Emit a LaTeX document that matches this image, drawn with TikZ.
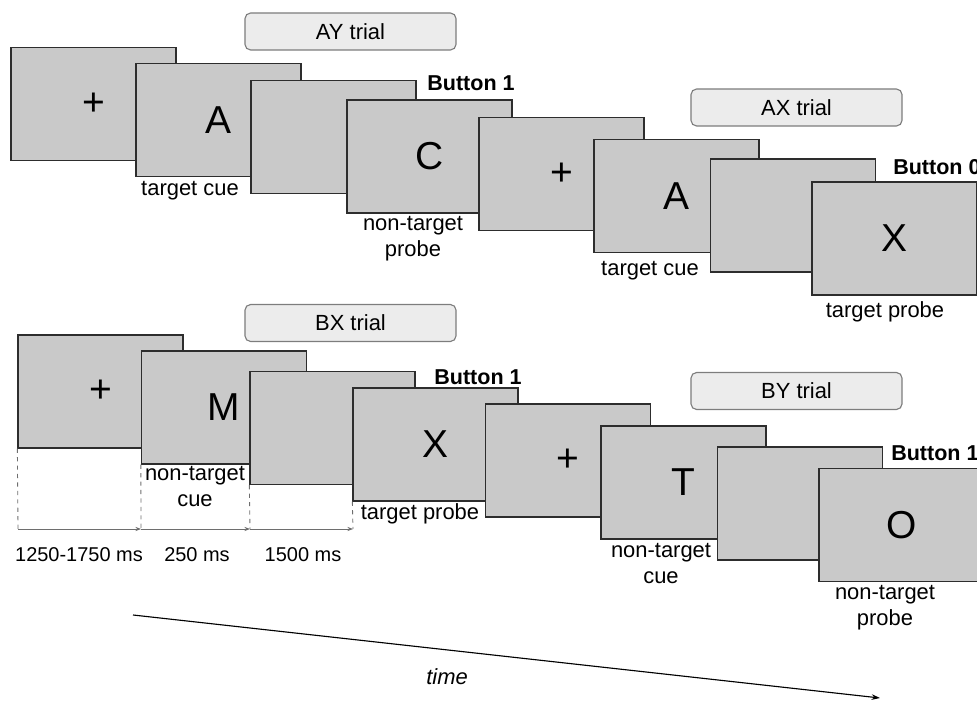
\documentclass[tikz,border=0pt]{standalone}
\usepackage{fontspec}
\setmainfont{Liberation Sans}
\usetikzlibrary{arrows.meta}
\definecolor{screengray}{RGB}{201, 201, 201}
\definecolor{screenline}{RGB}{45, 45, 45}
\definecolor{boxfill}{RGB}{236, 236, 236}
\definecolor{boxline}{RGB}{125, 125, 125}
\definecolor{spangray}{RGB}{110, 110, 110}
\begin{document}
\begin{tikzpicture}[
        x=0.025cm, y=-0.025cm,
        screen/.style={draw=screenline, fill=screengray, line width=0.9pt, minimum width=4.125cm, minimum height=2.825cm, inner sep=0pt, font=\fontsize{27.7}{30}\selectfont},
        trialbox/.style={draw=boxline, fill=boxfill, line width=0.8pt, rounded corners=4pt, minimum width=5.275cm, minimum height=0.925cm, font=\fontsize{15.6}{18.5}\selectfont},
        lbl/.style={align=center, inner sep=0pt, font=\fontsize{15.6}{18.5}\selectfont},
        btn/.style={inner sep=0pt, font=\bfseries\fontsize{15.3}{18}\selectfont},
        dur/.style={inner sep=0pt, font=\fontsize{14.2}{16}\selectfont},
        tick/.style={draw=spangray, dashed, line width=0.6pt},
        span/.style={draw=spangray, line width=0.7pt, -{Stealth[length=4pt, width=3pt]}}
      ]
        \useasboundingbox (0,0) rectangle (977,701);
        \clip (0,0) rectangle (977,701);

        \node[trialbox] (ay) at (350.5,31.5) {AY trial};
        \node[screen] (r1) at (93.5,104) {+};
        \node[screen] (r2) at (218.5,120) {A};
        \node[screen] (r3) at (333.5,137) {};
        \node[screen] (r4) at (429.5,156.5) {C};
        \node[screen] (r5) at (561.5,174) {+};
        \node[screen] (r6) at (676.5,196) {A};
        \node[screen] (r7) at (793,215.5) {};
        \node[screen] (r8) at (894.5,238.5) {X};
        \node[trialbox] (ax) at (796.5,107.5) {AX trial};
        \node[lbl] (r2lbl) at (190,191) {target cue};
        \node[lbl] (r4lbl) at (413,239) {non-target\\probe};
        \node[btn] (r4btn) at (471,83) {Button 1};
        \node[lbl] (r6lbl) at (650,271) {target cue};
        \node[btn, anchor=west] (r8btn) at (893,167) {Button 0};
        \node[lbl] (r8lbl) at (885,312) {target probe};

        \node[trialbox] (bx) at (350.5,323) {BX trial};
        \node[screen] (b1) at (100.5,391.5) {+};
        \node[screen] (b2) at (224,407.5) {M};
        \node[screen] (b3) at (332.5,428) {};
        \node[screen] (b4) at (435.5,444.5) {X};
        \node[screen] (b5) at (568,460.5) {+};
        \node[screen] (b6) at (683.5,482.5) {T};
        \node[screen] (b7) at (800,503.5) {};
        \node[screen] (b8) at (901.5,525) {O};
        \node[trialbox] (by) at (796.5,391) {BY trial};
        \node[lbl] (b2lbl) at (195,487) {non-target\\cue};
        \node[lbl] (b4lbl) at (420,514) {target probe};
        \node[btn] (b4btn) at (478,377) {Button 1};
        \node[lbl] (b6lbl) at (661,564) {non-target\\cue};
        \node[btn, anchor=west] (b8btn) at (891,453) {Button 1};
        \node[lbl] (b8lbl) at (885,608) {non-target\\probe};

        \coordinate (t0) at (18,529);
        \coordinate (t1) at (141,529);
        \coordinate (t2) at (250,529);
        \coordinate (t3) at (353,529);
        \draw[tick] (b1.south west) -- (t0);
        \draw[tick] (b2.south west) -- (t1);
        \draw[tick] (b3.south west) -- (t2);
        \draw[tick] (b4.south west) -- (t3);
        \draw[span] (t0) -- (t1);
        \draw[span] (t1) -- (t2);
        \draw[span] (t2) -- (t3);
        \node[dur] (d0) at (79,555) {1250-1750 ms};
        \node[dur] (d1) at (197,555) {250 ms};
        \node[dur] (d2) at (303,555) {1500 ms};

        \coordinate (tstart) at (133,615);
        \coordinate (tend) at (880,698);
        \draw[line width=0.8pt, -{Stealth[length=6pt, width=4pt]}] (tstart) -- (tend);
        \node[lbl, font=\itshape\fontsize{15.6}{18.5}\selectfont] (time) at (447,677) {time};
      \end{tikzpicture}
\end{document}
